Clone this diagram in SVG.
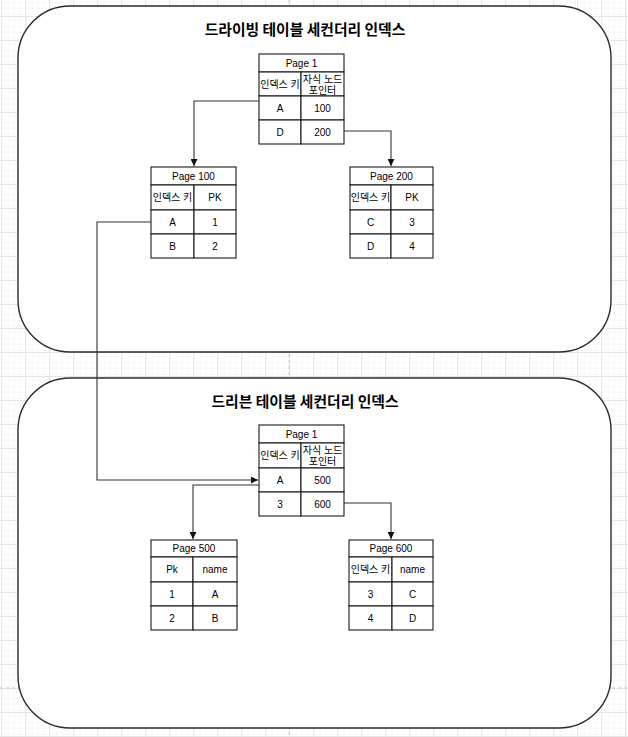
<svg xmlns="http://www.w3.org/2000/svg" width="628" height="737" viewBox="0 0 628 737">
  <style>
    .bg { fill: #ffffff; }
    .container { fill: #ffffff; stroke: #2b2b2b; stroke-width: 1.4; }
    .title { font-family: "Noto Sans CJK KR", "Liberation Sans", sans-serif; font-size: 14.8px; font-weight: bold; fill: #000; text-anchor: middle; }
    .cell { fill: #ffffff; stroke: #1a1a1a; stroke-width: 1.1; }
    .t { font-family: "Liberation Sans", "Noto Sans CJK KR", sans-serif; font-size: 10px; fill: #000; text-anchor: middle; dominant-baseline: central; }
    .conn { fill: none; stroke: #333333; stroke-width: 1.1; }
    .pb { stroke: #c8c8c8; stroke-width: 1; stroke-dasharray: 3 3; }
  </style>
  <defs>
    <pattern id="minor" x="1" y="16" width="6" height="6" patternUnits="userSpaceOnUse">
      <path d="M0 0 H6 M0 0 V6" stroke="#f4f4f4" stroke-width="1" fill="none"/>
    </pattern>
    <pattern id="grid" x="1" y="16" width="24" height="24" patternUnits="userSpaceOnUse">
      <rect width="24" height="24" fill="url(#minor)"/>
      <path d="M0 0.5 H24 M0.5 0 V24" stroke="#e6e6e6" stroke-width="1" fill="none"/>
    </pattern>
    <marker id="arrow" viewBox="0 0 10 10" refX="10" refY="5" markerWidth="7" markerHeight="7" orient="auto" markerUnits="userSpaceOnUse">
      <path d="M0 0 L10 5 L0 10 Z" fill="#111"/>
    </marker>
  </defs>

  <rect class="bg" width="628" height="737"/>
  <rect width="628" height="737" fill="url(#grid)"/>
  <line class="pb" x1="289" y1="0" x2="289" y2="737"/>
  <line class="pb" x1="0" y1="688" x2="628" y2="688"/>

  <g id="driving-container">
    <rect class="container" x="18" y="6" width="593" height="346" rx="52" ry="52"/>
    <text class="title" x="305" y="35">드라이빙 테이블 세컨더리 인덱스</text>
  </g>
  <g id="driven-container">
    <rect class="container" x="18" y="378" width="593" height="350" rx="52" ry="52"/>
    <text class="title" x="305" y="407">드리븐 테이블 세컨더리 인덱스</text>
  </g>

  <g id="connectors">
    <path class="conn" d="M259 101 H194 V166" marker-end="url(#arrow)"/>
    <path class="conn" d="M344 131 H391 V166" marker-end="url(#arrow)"/>
    <path class="conn" d="M151 222 H97 V480 H258" marker-end="url(#arrow)"/>
    <path class="conn" d="M259 485 H193 V539" marker-end="url(#arrow)"/>
    <path class="conn" d="M344 503 H391 V539" marker-end="url(#arrow)"/>
  </g>

  <g id="driving-page1">
    <rect class="cell" x="259" y="54" width="85" height="18"/>
    <rect class="cell" x="259" y="72" width="42" height="24"/>
    <rect class="cell" x="301" y="72" width="43" height="24"/>
    <rect class="cell" x="259" y="96" width="42" height="24"/>
    <rect class="cell" x="301" y="96" width="43" height="24"/>
    <rect class="cell" x="259" y="120" width="42" height="24"/>
    <rect class="cell" x="301" y="120" width="43" height="24"/>
    <text class="t" x="301.5" y="63">Page 1</text>
    <text class="t" x="280" y="84">인덱스 키</text>
    <text class="t" x="322.5" y="79">자식 노드</text>
    <text class="t" x="322.5" y="90">포인터</text>
    <text class="t" x="280" y="108">A</text>
    <text class="t" x="322.5" y="108">100</text>
    <text class="t" x="280" y="132">D</text>
    <text class="t" x="322.5" y="132">200</text>
  </g>

  <g id="driving-page100">
    <rect class="cell" x="151" y="167" width="85" height="18"/>
    <rect class="cell" x="151" y="185" width="43" height="25"/>
    <rect class="cell" x="194" y="185" width="42" height="25"/>
    <rect class="cell" x="151" y="210" width="43" height="24"/>
    <rect class="cell" x="194" y="210" width="42" height="24"/>
    <rect class="cell" x="151" y="234" width="43" height="24"/>
    <rect class="cell" x="194" y="234" width="42" height="24"/>
    <text class="t" x="193.5" y="176">Page 100</text>
    <text class="t" x="172.5" y="197.5">인덱스 키</text>
    <text class="t" x="215" y="197.5">PK</text>
    <text class="t" x="172.5" y="222">A</text>
    <text class="t" x="215" y="222">1</text>
    <text class="t" x="172.5" y="246">B</text>
    <text class="t" x="215" y="246">2</text>
  </g>

  <g id="driving-page200">
    <rect class="cell" x="350" y="167" width="83" height="18"/>
    <rect class="cell" x="350" y="185" width="41" height="25"/>
    <rect class="cell" x="391" y="185" width="42" height="25"/>
    <rect class="cell" x="350" y="210" width="41" height="24"/>
    <rect class="cell" x="391" y="210" width="42" height="24"/>
    <rect class="cell" x="350" y="234" width="41" height="24"/>
    <rect class="cell" x="391" y="234" width="42" height="24"/>
    <text class="t" x="391.5" y="176">Page 200</text>
    <text class="t" x="370.5" y="197.5">인덱스 키</text>
    <text class="t" x="412" y="197.5">PK</text>
    <text class="t" x="370.5" y="222">C</text>
    <text class="t" x="412" y="222">3</text>
    <text class="t" x="370.5" y="246">D</text>
    <text class="t" x="412" y="246">4</text>
  </g>

  <g id="driven-page1">
    <rect class="cell" x="259" y="425" width="85" height="18"/>
    <rect class="cell" x="259" y="443" width="42" height="25"/>
    <rect class="cell" x="301" y="443" width="43" height="25"/>
    <rect class="cell" x="259" y="468" width="42" height="24"/>
    <rect class="cell" x="301" y="468" width="43" height="24"/>
    <rect class="cell" x="259" y="492" width="42" height="24"/>
    <rect class="cell" x="301" y="492" width="43" height="24"/>
    <text class="t" x="301.5" y="434">Page 1</text>
    <text class="t" x="280" y="455.5">인덱스 키</text>
    <text class="t" x="322.5" y="450">자식 노드</text>
    <text class="t" x="322.5" y="461">포인터</text>
    <text class="t" x="280" y="480">A</text>
    <text class="t" x="322.5" y="480">500</text>
    <text class="t" x="280" y="504">3</text>
    <text class="t" x="322.5" y="504">600</text>
  </g>

  <g id="driven-page500">
    <rect class="cell" x="151" y="540" width="86" height="17"/>
    <rect class="cell" x="151" y="557" width="42" height="25"/>
    <rect class="cell" x="193" y="557" width="44" height="25"/>
    <rect class="cell" x="151" y="582" width="42" height="24"/>
    <rect class="cell" x="193" y="582" width="44" height="24"/>
    <rect class="cell" x="151" y="606" width="42" height="24"/>
    <rect class="cell" x="193" y="606" width="44" height="24"/>
    <text class="t" x="194" y="548.5">Page 500</text>
    <text class="t" x="172" y="569.5">Pk</text>
    <text class="t" x="215" y="569.5">name</text>
    <text class="t" x="172" y="594">1</text>
    <text class="t" x="215" y="594">A</text>
    <text class="t" x="172" y="618">2</text>
    <text class="t" x="215" y="618">B</text>
  </g>

  <g id="driven-page600">
    <rect class="cell" x="349" y="540" width="84" height="17"/>
    <rect class="cell" x="349" y="557" width="43" height="25"/>
    <rect class="cell" x="392" y="557" width="41" height="25"/>
    <rect class="cell" x="349" y="582" width="43" height="24"/>
    <rect class="cell" x="392" y="582" width="41" height="24"/>
    <rect class="cell" x="349" y="606" width="43" height="24"/>
    <rect class="cell" x="392" y="606" width="41" height="24"/>
    <text class="t" x="391" y="548.5">Page 600</text>
    <text class="t" x="370.5" y="569.5">인덱스 키</text>
    <text class="t" x="412.5" y="569.5">name</text>
    <text class="t" x="370.5" y="594">3</text>
    <text class="t" x="412.5" y="594">C</text>
    <text class="t" x="370.5" y="618">4</text>
    <text class="t" x="412.5" y="618">D</text>
  </g>
</svg>
